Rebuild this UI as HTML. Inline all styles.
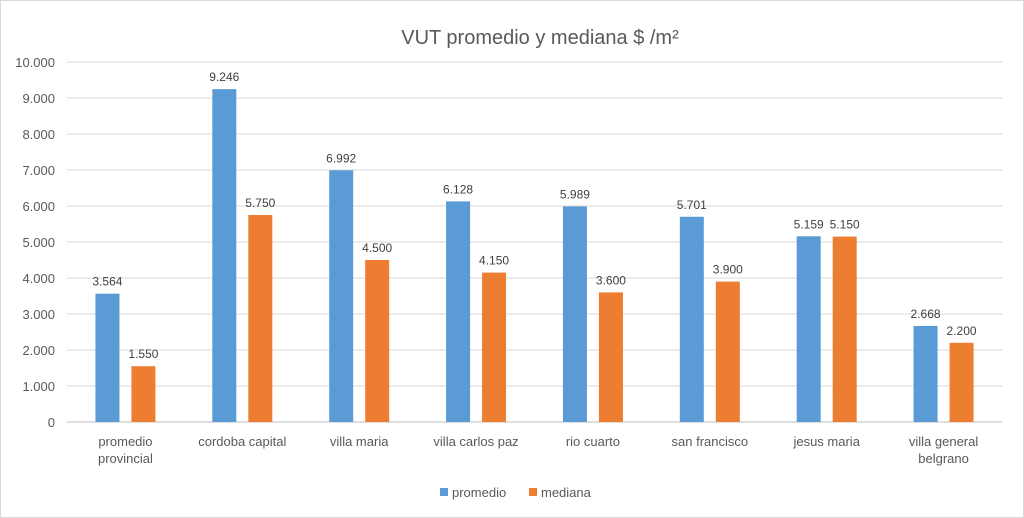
<!DOCTYPE html>
<html><head><meta charset="utf-8"><style>
body{margin:0;background:#fff;}
svg{display:block;font-family:"Liberation Sans",sans-serif;}
</style></head><body>
<svg id="chart" width="1024" height="518" viewBox="0 0 1024 518">
<rect x="0.5" y="0.5" width="1023" height="517" fill="#fff" stroke="#d9d9d9"/>
<text x="540" y="44" text-anchor="middle" font-size="20" fill="#595959">VUT promedio y mediana  $ /m²</text>
<g id="grid"></g><g id="bars"></g><g id="labels"></g>
<g>
<rect x="440" y="488" width="8" height="8" fill="#5b9bd5"/>
<text x="452" y="497" font-size="13" fill="#595959">promedio</text>
<rect x="529" y="488" width="8" height="8" fill="#ed7d31"/>
<text x="541" y="497" font-size="13" fill="#595959">mediana</text>
</g>
</svg>
<script>
const categories=[["promedio","provincial"],["cordoba capital"],["villa maria"],["villa carlos paz"],["rio cuarto"],["san francisco"],["jesus maria"],["villa general","belgrano"]];
const promedio=[3564,9246,6992,6128,5989,5701,5159,2668];
const mediana=[1550,5750,4500,4150,3600,3900,5150,2200];
const ticks=[0,1000,2000,3000,4000,5000,6000,7000,8000,9000,10000];
const X0=67,X1=1002,Y0=422,Y1=62,MAX=10000;
const ns="http://www.w3.org/2000/svg";
const y=v=>Y0-(v/MAX)*(Y0-Y1);
const band=(X1-X0)/categories.length;
const cx=i=>X0+band*(i+0.5);
const fmt=v=>v.toLocaleString('de-DE');
function mk(tag,attrs,parent,txt){const e=document.createElementNS(ns,tag);for(const k in attrs)e.setAttribute(k,attrs[k]);if(txt!==undefined)e.textContent=txt;document.getElementById(parent).appendChild(e);return e;}
ticks.forEach(t=>{
 const l=mk('line',{x1:X0,x2:X1,y1:y(t),y2:y(t),stroke:t===0?'#bfbfbf':'#d9d9d9','stroke-width':1},'grid');
 
 
 const tx=mk('text',{x:55,y:y(t)+5,'text-anchor':'end','font-size':13,fill:'#595959'},'grid',fmt(t));
 
 
});
const bw=24;
categories.forEach((c,i)=>{
 [[promedio,'#5b9bd5',-18,'promedio'],[mediana,'#ed7d31',18,'mediana']].forEach(([arr,col,off,nm])=>{
  const v=arr[i];const bx=cx(i)+off-bw/2;
  const r=mk('rect',{x:bx,y:y(v),width:bw,height:Y0-y(v),fill:col},'bars');
  
  
  const t=mk('text',{x:cx(i)+off,y:y(v)-8,'text-anchor':'middle','font-size':12,fill:'#404040'},'labels',fmt(v));
  
  
 });
 c.forEach((line,j)=>{
  const t=mk('text',{x:cx(i),y:446+j*17,'text-anchor':'middle','font-size':13,fill:'#595959'},'labels',line);
  
  
 });
});
</script>
</body></html>
